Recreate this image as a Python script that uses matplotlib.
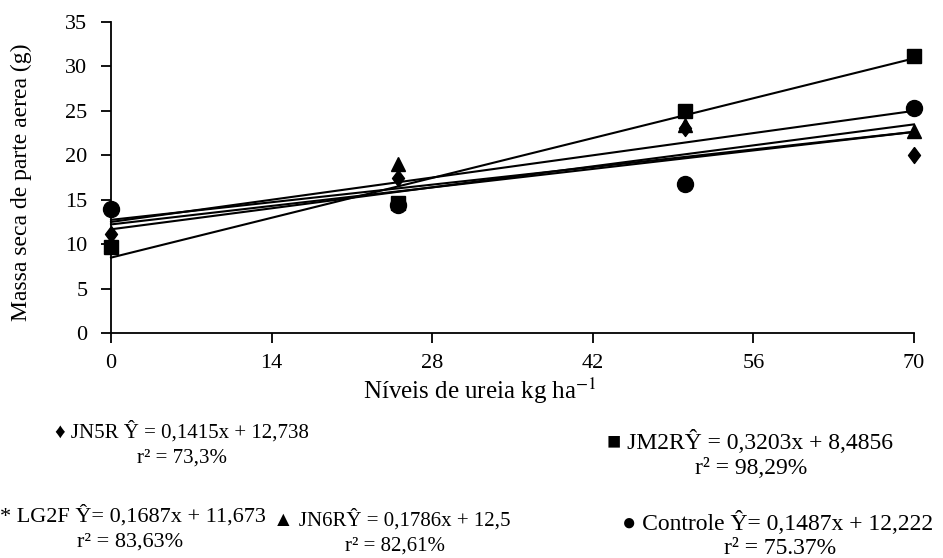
import numpy as np
import matplotlib
matplotlib.use("Agg")
import matplotlib.pyplot as plt

plt.rcParams["font.family"] = ["Liberation Serif", "DejaVu Serif", "DejaVu Sans"]
plt.rcParams["mathtext.fontset"] = "stix"

# doses de ureia (kg/ha)
doses = [0, 25, 50, 70]

# massa seca observada (g)
jn5r = [11.1, 17.5, 23.1, 20.0]
jm2r = [9.7, 14.6, 25.0, 31.2]
jn6r = [10.0, 19.0, 23.4, 22.7]
controle = [14.0, 14.4, 16.8, 25.3]

# coeficientes das regressoes (a, b)
coef_jn5r = (0.1415, 12.738)
coef_jm2r = (0.3203, 8.4856)
coef_lg2f = (0.1687, 11.673)
coef_jn6r = (0.1786, 12.5)
coef_controle = (0.1487, 12.222)

xticks = [0, 14, 28, 42, 56, 70]
yticks = [0, 5, 10, 15, 20, 25, 30, 35]

fig = plt.figure(figsize=(9.43, 5.58), dpi=100)
ax = fig.add_axes([0.1177, 0.4032, 0.8515, 0.5573])

xs = np.array([0, 70])
for a, b in [coef_jn5r, coef_jm2r, coef_lg2f, coef_jn6r, coef_controle]:
    ax.plot(xs, a * xs + b, color="black", linewidth=1.5, zorder=2)

diamond = [(0, 1), (0.75, 0), (0, -1), (-0.75, 0), (0, 1)]
ax.plot(doses, jn5r, linestyle="none", marker=diamond, markersize=11.5, color="black", zorder=3)
ax.plot(doses, jm2r, linestyle="none", marker="s", markersize=10, color="black", zorder=3)
ax.plot(doses, jn6r, linestyle="none", marker="^", markersize=10, color="black", zorder=3)
ax.plot(doses, controle, linestyle="none", marker="o", markersize=11.5, color="black", zorder=3)

ax.set_xlim(0, 70)
ax.set_ylim(0, 35)
ax.set_xticks(xticks)
ax.set_yticks(yticks)
ax.tick_params(labelsize=16, length=7, width=1.3, color="black")
ax.tick_params(axis="x", pad=8)
ax.tick_params(axis="y", pad=10)
for s in ["top", "right"]:
    ax.spines[s].set_visible(False)
for s in ["left", "bottom"]:
    ax.spines[s].set_linewidth(1.3)
for ln in ax.lines:
    ln.set_clip_on(False)

ax.set_ylabel("Massa seca de parte aerea (g)", fontsize=17)
ax.yaxis.set_label_coords(-0.111, 0.486)
ax.set_xlabel("Níveis de ureia kg ha$^{-1}$", fontsize=18)
ax.xaxis.set_label_coords(0.4595, -0.185)
ax.xaxis.label.set_va("center")
ax.yaxis.label.set_va("center")


def eq(x, y, txt, r2, rx, fs, gap=26):
    fig.text(x / 943, 1 - y / 558, txt, fontsize=fs, ha="left", va="center")
    fig.text(rx / 943, 1 - (y + gap) / 558, r2, fontsize=fs, ha="center", va="center")


eq(55, 432, "♦ JN5R Ŷ = 0,1415x + 12,738", "r² = 73,3%", 182, 15)
eq(607, 442, "■ JM2RŶ = 0,3203x + 8,4856", "r² = 98,29%", 751, 17)
eq(0, 516, "* LG2F Ŷ= 0,1687x + 11,673", "r² = 83,63%", 130, 16)
eq(273, 520, "▲ JN6RŶ = 0,1786x + 12,5", "r² = 82,61%", 395, 15)
eq(622, 523, "● Controle Ŷ= 0,1487x + 12,222", "r² = 75.37%", 780, 17)

fig.savefig("out.png", dpi=100)
